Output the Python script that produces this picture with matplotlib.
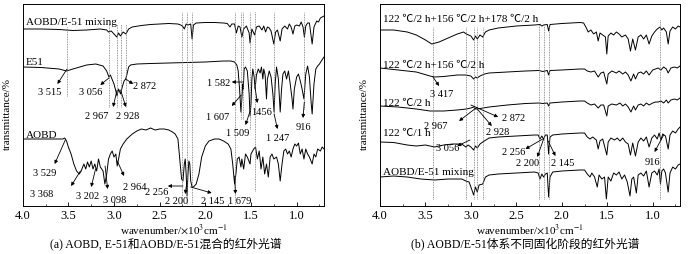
"""
FTIR spectra of AOBD, E-51 and their blend, plus the blend at several cure stages
"""
import matplotlib
matplotlib.use('Agg')
import matplotlib.pyplot as plt
from matplotlib.ticker import MultipleLocator

plt.rcParams['font.family'] = ['Liberation Serif', 'Noto Sans CJK SC']
plt.rcParams['mathtext.fontset'] = 'stix'

# ---------------- panel (a): wavenumber (x10^3 cm^-1) and offset transmittance ----------------
mix_a_wn = [4.00, 3.80, 3.60, 3.45, 3.30, 3.15, 3.08, 3.06, 3.03, 3.00,
            2.97, 2.95, 2.93, 2.90, 2.87, 2.84, 2.80, 2.70, 2.60, 2.50,
            2.40, 2.30, 2.27, 2.25, 2.23, 2.21, 2.19, 2.16, 2.145, 2.13,
            2.10, 2.00, 1.90, 1.80, 1.76, 1.73, 1.71, 1.68, 1.66, 1.64,
            1.62, 1.60, 1.58, 1.55, 1.52, 1.51, 1.49, 1.46, 1.44, 1.41,
            1.38, 1.36, 1.34, 1.32, 1.30, 1.28, 1.25, 1.23, 1.21, 1.18,
            1.16, 1.13, 1.10, 1.08, 1.06, 1.04, 1.02, 1.00, 0.97, 0.95,
            0.93, 0.915, 0.90, 0.88, 0.86, 0.83, 0.81, 0.78, 0.76, 0.74,
            0.72, 0.70]
mix_a_T = [177, 177, 176.5, 175.5, 176, 177, 176, 174, 175, 172,
           169, 173, 170, 174, 172, 177, 179, 180.5, 181.5, 182,
           182.5, 182, 181, 180, 177, 182, 181, 182, 167, 181,
           183, 183.5, 183.5, 183, 182.5, 179, 182, 182, 173, 180,
           179, 169, 177, 180, 173, 163, 177, 171, 179, 180,
           176, 180, 174, 179, 178, 175, 162, 174, 176, 165,
           177, 180, 177, 182, 179, 172, 180, 181, 180, 184,
           179, 169, 180, 183, 183, 162, 179, 185, 184, 188,
           189, 190]

e51_wn = [4.00, 3.80, 3.60, 3.52, 3.45, 3.30, 3.20, 3.12, 3.08, 3.056,
          3.04, 3.00, 2.98, 2.967, 2.95, 2.928, 2.91, 2.89, 2.872, 2.86,
          2.84, 2.82, 2.75, 2.60, 2.40, 2.20, 2.00, 1.80, 1.72, 1.68,
          1.655, 1.64, 1.625, 1.61, 1.60, 1.59, 1.585, 1.575, 1.56, 1.54,
          1.52, 1.51, 1.50, 1.49, 1.48, 1.465, 1.455, 1.44, 1.42, 1.40,
          1.385, 1.37, 1.36, 1.345, 1.33, 1.32, 1.30, 1.28, 1.26, 1.247,
          1.235, 1.22, 1.20, 1.18, 1.165, 1.15, 1.13, 1.11, 1.09, 1.07,
          1.05, 1.04, 1.025, 1.00, 0.98, 0.96, 0.94, 0.92, 0.90, 0.88,
          0.86, 0.84, 0.83, 0.81, 0.79, 0.77, 0.75, 0.73, 0.70]
e51_T = [139, 138.5, 137, 135, 137, 141, 142, 140, 135, 129,
         131, 122, 115, 110, 117, 112, 119, 125, 127, 131,
         139, 141, 142, 142.5, 143, 143.5, 144, 145, 145, 144,
         141, 135, 117, 94, 107, 122, 117, 137, 139, 135,
         112, 90, 102, 127, 137, 129, 117, 131, 137, 133,
         139, 127, 137, 131, 107, 127, 135, 129, 112, 94,
         122, 139, 127, 94, 117, 132, 135, 127, 135, 122,
         107, 97, 117, 129, 132, 125, 117, 107, 132, 140,
         129, 102, 92, 122, 137, 140, 142, 145, 149]

aobd_wn = [4.00, 3.80, 3.60, 3.56, 3.54, 3.52, 3.50, 3.47, 3.44, 3.41,
           3.38, 3.36, 3.33, 3.31, 3.29, 3.27, 3.25, 3.23, 3.21, 3.19,
           3.17, 3.15, 3.12, 3.10, 3.08, 3.06, 3.04, 3.02, 3.00, 2.98,
           2.965, 2.95, 2.93, 2.90, 2.86, 2.80, 2.75, 2.70, 2.65, 2.60,
           2.55, 2.50, 2.45, 2.40, 2.36, 2.33, 2.30, 2.28, 2.26, 2.245,
           2.23, 2.22, 2.21, 2.20, 2.19, 2.18, 2.17, 2.16, 2.145, 2.13,
           2.10, 2.07, 2.04, 2.00, 1.96, 1.90, 1.85, 1.80, 1.75, 1.72,
           1.70, 1.685, 1.679, 1.665, 1.65, 1.63, 1.61, 1.60, 1.58, 1.56,
           1.54, 1.51, 1.50, 1.47, 1.45, 1.43, 1.41, 1.39, 1.37, 1.35,
           1.33, 1.31, 1.29, 1.27, 1.25, 1.22, 1.20, 1.18, 1.16, 1.14,
           1.12, 1.10, 1.08, 1.06, 1.04, 1.02, 1.00, 0.98, 0.96, 0.94,
           0.92, 0.90, 0.88, 0.86, 0.83, 0.81, 0.79, 0.77, 0.74, 0.72,
           0.70]
aobd_T = [67, 67, 67, 67, 68, 65, 59, 52, 42, 35,
          32, 35, 42, 37, 44, 39, 45, 37, 42, 35,
          47, 39, 35, 22, 32, 47, 52, 55, 49, 52,
          40, 47, 57, 62, 67, 72, 75, 77, 76, 78,
          76, 77, 77, 76, 74, 72, 67, 47, 27, 25,
          42, 47, 32, 10, 32, 45, 42, 25, 19, 19,
          22, 32, 49, 60, 65, 67, 67, 65, 62, 57,
          42, 27, 22, 32, 47, 49, 39, 47, 37, 52,
          49, 42, 52, 57, 59, 47, 55, 37, 49, 32,
          42, 29, 49, 52, 47, 49, 42, 25, 42, 55,
          57, 52, 55, 49, 57, 62, 60, 63, 52, 57,
          47, 57, 52, 49, 42, 52, 49, 57, 55, 59,
          57]

# ---------------- panel (b): cure stages ----------------
cure3_wn = [4.00, 3.85, 3.70, 3.60, 3.50, 3.43, 3.35, 3.25, 3.15, 3.08,
            3.05, 3.00, 2.97, 2.95, 2.93, 2.90, 2.87, 2.84, 2.80, 2.70,
            2.60, 2.50, 2.40, 2.30, 2.24, 2.22, 2.20, 2.16, 2.145, 2.13,
            2.00, 1.90, 1.80, 1.76, 1.73, 1.71, 1.68, 1.65, 1.62, 1.60,
            1.58, 1.55, 1.52, 1.505, 1.49, 1.46, 1.43, 1.40, 1.37, 1.34,
            1.30, 1.27, 1.245, 1.22, 1.19, 1.16, 1.13, 1.10, 1.07, 1.04,
            1.01, 0.98, 0.95, 0.92, 0.90, 0.88, 0.85, 0.83, 0.81, 0.78,
            0.75, 0.72, 0.70]
cure3_T = [176, 176, 174, 171, 166, 162, 164, 168, 172, 174,
           172, 170, 166, 170, 167, 171, 169, 174, 176, 178,
           179, 180, 180.5, 181, 181.5, 180, 181, 181.5, 175, 181.5,
           182.5, 183, 183.5, 183, 178, 174, 176, 172, 174, 165,
           173, 171, 169, 152, 170, 173, 171, 174, 172, 169,
           171, 167, 155, 167, 156, 169, 171, 167, 171, 162,
           170, 174, 177, 179, 176, 178, 174, 162, 175, 179,
           177, 180, 179]

cure2_wn = [4.00, 3.80, 3.60, 3.45, 3.40, 3.30, 3.15, 3.06, 3.00, 2.97,
            2.95, 2.93, 2.90, 2.85, 2.80, 2.60, 2.40, 2.25, 2.21, 2.16,
            2.145, 2.13, 2.00, 1.80, 1.75, 1.72, 1.68, 1.64, 1.60, 1.57,
            1.54, 1.505, 1.49, 1.45, 1.40, 1.37, 1.33, 1.30, 1.27, 1.24,
            1.21, 1.19, 1.16, 1.13, 1.10, 1.07, 1.04, 1.00, 0.97, 0.94,
            0.91, 0.88, 0.85, 0.83, 0.80, 0.76, 0.73, 0.70]
cure2_T = [138, 136, 134, 130, 129, 129.5, 131, 131, 130, 127,
           129, 128, 130, 132, 133, 134, 135, 135.5, 134.5, 135.5,
           131, 135.5, 136, 137, 137, 135, 134, 135, 129, 133,
           134, 122, 132, 135, 133, 135, 132, 134, 131, 125,
           132, 127, 133, 134, 132, 135, 131, 136, 137, 138,
           136, 139, 137, 133, 138, 139, 138, 140]

cure1_wn = [4.00, 3.80, 3.60, 3.45, 3.30, 3.15, 3.05, 3.00, 2.97, 2.95,
            2.90, 2.80, 2.60, 2.40, 2.25, 2.21, 2.16, 2.145, 2.13, 2.00,
            1.80, 1.75, 1.72, 1.68, 1.64, 1.60, 1.57, 1.54, 1.505, 1.49,
            1.45, 1.40, 1.36, 1.33, 1.30, 1.27, 1.24, 1.21, 1.19, 1.16,
            1.13, 1.10, 1.07, 1.04, 1.00, 0.97, 0.94, 0.91, 0.88, 0.85,
            0.83, 0.80, 0.76, 0.73, 0.70]
cure1_T = [100, 99, 97, 95, 95, 96, 97, 98, 99, 97,
           97.5, 99, 101, 102.5, 103, 102.5, 103, 100, 103, 104,
           105, 105, 103, 101, 102, 98, 101, 101, 90, 100,
           102, 101, 103, 100, 102, 99, 94, 100, 96, 101,
           102, 100, 103, 101, 103, 104, 104, 105, 103, 106,
           103, 106, 107, 106, 108]

cure0_wn = [4.00, 3.85, 3.70, 3.60, 3.50, 3.40, 3.30, 3.20, 3.10, 3.056,
            3.03, 3.00, 2.97, 2.95, 2.93, 2.90, 2.87, 2.80, 2.70, 2.50,
            2.30, 2.26, 2.24, 2.22, 2.20, 2.18, 2.16, 2.145, 2.13, 2.10,
            2.00, 1.80, 1.75, 1.72, 1.69, 1.66, 1.62, 1.60, 1.58, 1.55,
            1.505, 1.49, 1.46, 1.42, 1.39, 1.36, 1.33, 1.30, 1.27, 1.245,
            1.22, 1.19, 1.16, 1.13, 1.10, 1.07, 1.04, 1.01, 0.98, 0.95,
            0.93, 0.91, 0.89, 0.86, 0.83, 0.81, 0.78, 0.75, 0.72, 0.70]
cure0_T = [64, 63.5, 61, 60, 61, 59, 61, 62, 62, 59,
           61, 59, 56, 60, 58, 62, 64, 68, 69, 70,
           71, 71, 67, 70, 67, 71, 71, 52, 69, 71,
           72, 73, 73, 69, 67, 69, 66, 57, 65, 67,
           51, 64, 68, 66, 68, 65, 68, 64, 62, 51,
           63, 50, 64, 68, 65, 69, 59, 68, 71, 67,
           73, 66, 72, 70, 57, 71, 75, 73, 77, 79]

mix_b_wn = [4.00, 3.85, 3.70, 3.55, 3.40, 3.25, 3.10, 3.056, 3.02, 3.00,
            2.97, 2.95, 2.93, 2.91, 2.87, 2.84, 2.80, 2.70, 2.50, 2.30,
            2.26, 2.24, 2.22, 2.20, 2.18, 2.16, 2.145, 2.13, 2.10, 2.00,
            1.80, 1.75, 1.72, 1.69, 1.67, 1.64, 1.61, 1.59, 1.56, 1.53,
            1.51, 1.49, 1.46, 1.43, 1.40, 1.37, 1.34, 1.31, 1.28, 1.25,
            1.23, 1.21, 1.18, 1.16, 1.13, 1.10, 1.07, 1.04, 1.01, 0.98,
            0.95, 0.93, 0.915, 0.90, 0.88, 0.86, 0.83, 0.81, 0.78, 0.75,
            0.72, 0.70]
mix_b_T = [29, 30, 29, 27, 26, 27, 27, 25, 24, 19,
           11, 19, 14, 21, 22, 29, 31, 32, 33, 34,
           33, 27, 32, 29, 32, 33, 9, 29, 34, 35,
           36, 36, 32, 29, 33, 29, 19, 31, 27, 29,
           7, 29, 25, 33, 31, 34, 27, 31, 24, 10,
           27, 29, 13, 31, 33, 30, 35, 19, 33, 35,
           31, 37, 22, 35, 37, 33, 14, 33, 39, 37,
           41, 42]

# curve names
names_a = ['AOBD/E-51 mixing', 'E51', 'AOBD']
names_b = ['122 ℃/2 h+156 ℃/2 h+178 ℃/2 h', '122 ℃/2 h+156 ℃/2 h',
           '122 ℃/2 h', '122 ℃/1 h', 'AOBD/E-51 mixing']

# dotted reference lines: wavenumber, lower end, upper end
ref_a_wn = [3.515, 3.056, 2.967, 2.928, 2.872, 2.256, 2.200, 2.145,
            1.679, 1.607, 1.582, 1.509, 1.456, 1.247, 0.916]
ref_a_lo = [110, 99, 99, 99, 99, 2, 2, 2, 2, 87, 87, 77, 15, 92, 97]
ref_a_hi = [179, 182, 182, 182, 182, 194, 194, 194, 194, 194, 194, 194, 194, 194, 194]

ref_b_wn = [3.417, 3.056, 2.967, 2.928, 2.872, 2.256, 2.200, 2.145, 0.916]
ref_b_lo = [7, 7, 7, 7, 7, 7, 7, 7, 7]
ref_b_hi = [179, 179, 179, 179, 179, 182, 182, 182, 187]

# peak labels: text, arrow tail (on the curve), arrow head, text centre
peaks_a = [
    ('3 515', (3.515, 137), (3.62, 122), (3.70, 115)),
    ('3 056', (3.056, 128), (3.15, 121), (3.25, 115)),
    ('2 967', (2.967, 116), (3.01, 99), (3.19, 91)),
    ('2 928', (2.928, 116), (2.87, 99), (2.85, 91)),
    ('2 872', (2.872, 127), (2.79, 122), (2.66, 121)),
    ('1 582', (1.582, 124), (1.71, 124), (1.85, 124)),
    ('1 607', (1.607, 111), (1.71, 100), (1.86, 90)),
    ('1456', (1.456, 119), (1.43, 103), (1.38, 95)),
    ('1 509', (1.509, 95), (1.56, 81), (1.65, 74)),
    ('1 247', (1.247, 92), (1.21, 77), (1.21, 69)),
    ('916', (0.916, 104), (0.93, 88), (0.92, 80)),
    ('3 529', (3.529, 67), (3.65, 42), (3.76, 34)),
    ('3 368', (3.368, 35), (3.47, 20), (3.79, 13)),
    ('3 202', (3.202, 37), (3.25, 19), (3.29, 11)),
    ('3 098', (3.098, 40), (3.07, 17), (2.99, 7)),
    ('2 964', (2.964, 45), (2.89, 30), (2.77, 20)),
    ('2 256', (2.245, 20), (2.41, 20), (2.53, 15)),
    ('2 200', (2.20, 25), (2.22, 12), (2.31, 6)),
    ('2 145', (2.16, 19), (1.93, 13), (1.92, 6)),
    ('1 679', (1.679, 30), (1.67, 12), (1.62, 6)),
]
peaks_b = [
    ('3 417', (3.417, 129), (3.35, 120), (3.32, 113)),
    ('2 967', (2.93, 99), (3.13, 85), (3.39, 81)),
    ('2 872', (3.00, 101), (2.70, 89), (2.53, 89)),
    ('2 928', (2.93, 97), (2.77, 80), (2.71, 75)),
    ('3 056', (3.01, 66), (3.15, 60), (3.26, 59)),
    ('2 256', (2.21, 67), (2.40, 57), (2.53, 55)),
    ('2 200', (2.20, 67), (2.27, 49), (2.38, 44)),
    ('2 145', (2.15, 65), (2.07, 50), (1.99, 44)),
    ('916', (0.88, 71), (0.98, 54), (1.00, 45)),
]

fig = plt.figure(figsize=(6.9, 2.55), dpi=100)
ax_a = fig.add_axes([0.0329, 0.1882, 0.4367, 0.7922])
ax_b = fig.add_axes([0.5507, 0.1882, 0.4348, 0.7922])

panels = [
    (ax_a, [(mix_a_wn, mix_a_T), (e51_wn, e51_T), (aobd_wn, aobd_T)], names_a,
     [184, 145, 72], ref_a_wn, ref_a_lo, ref_a_hi, peaks_a),
    (ax_b, [(cure3_wn, cure3_T), (cure2_wn, cure2_T), (cure1_wn, cure1_T),
            (cure0_wn, cure0_T), (mix_b_wn, mix_b_T)], names_b,
     [187, 142, 104, 74, 35], ref_b_wn, ref_b_lo, ref_b_hi, peaks_b),
]

for ax, curves, names, name_y, rwn, rlo, rhi, peaks in panels:
    for wn, tr in curves:
        ax.plot(wn, tr, color='black', lw=0.7)
    for name, ny in zip(names, name_y):
        ax.text(3.965, ny, name, fontsize=8, ha='left', va='center')
    for x, lo, hi in zip(rwn, rlo, rhi):
        ax.plot([x, x], [lo, hi], color='#777777', lw=0.6, ls=(0, (1, 1)))
    for label, tail, head, pos in peaks:
        ax.annotate('', xy=head, xytext=tail,
                    arrowprops=dict(arrowstyle='-|>', color='black', lw=0.6,
                                    mutation_scale=5, shrinkA=0, shrinkB=0))
        ax.text(pos[0], pos[1], label, fontsize=7.5, ha='center', va='center')

    ax.set_xlim(4.0, 0.7)
    ax.set_ylim(0, 202)
    ax.xaxis.set_major_locator(MultipleLocator(0.5))
    ax.xaxis.set_minor_locator(MultipleLocator(0.25))
    ax.set_xticks([4.0, 3.5, 3.0, 2.5, 2.0, 1.5, 1.0])
    ax.set_xticklabels(['4.0', '3.5', '3.0', '2.5', '2.0', '1.5', '1.0'])
    ax.tick_params(axis='x', which='major', direction='in', length=3, width=0.6,
                   labelsize=9, pad=2)
    ax.tick_params(axis='x', which='minor', direction='in', length=1.5, width=0.5)
    ax.set_yticks([])
    for sp in ax.spines.values():
        sp.set_linewidth(0.7)
    ax.set_xlabel(r'wavenumber/$\times$10$^3$cm$^{-1}$', fontsize=8, labelpad=0)
    ax.set_ylabel('transmittance/%', fontsize=8)
    ax.yaxis.set_label_coords(-0.036, 0.46)

fig.text(0.2406, 1 - 245 / 255, '(a) AOBD, E-51和AOBD/E-51混合的红外光谱',
         fontsize=8.5, ha='center', va='center')
fig.text(0.761, 1 - 245 / 255, '(b) AOBD/E-51体系不同固化阶段的红外光谱',
         fontsize=8.5, ha='center', va='center')

fig.savefig('out.png', dpi=100)
